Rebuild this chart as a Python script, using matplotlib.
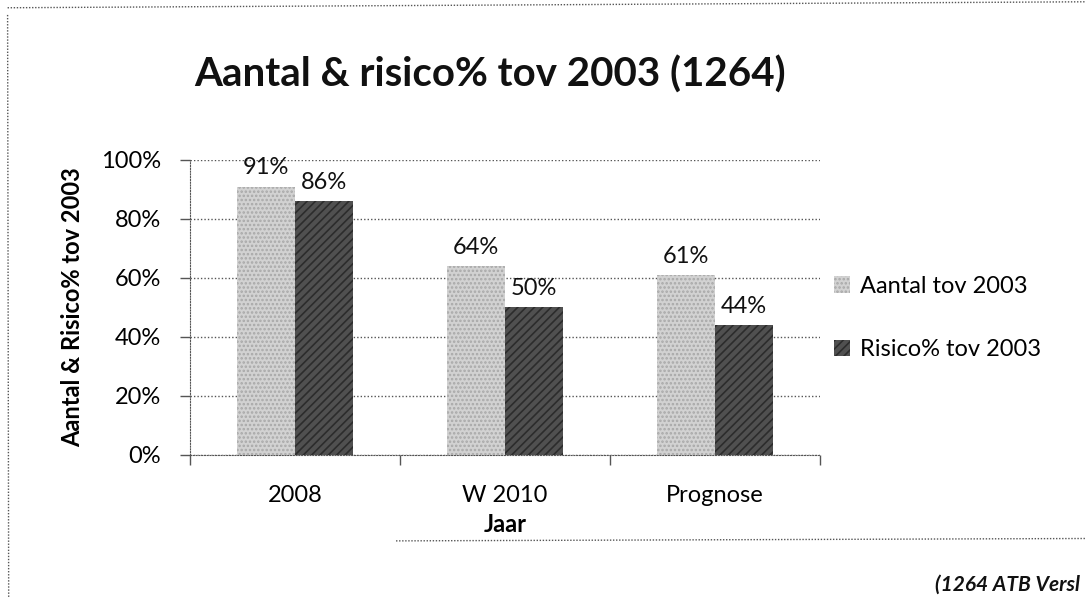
#!/usr/bin/env python3
"""Aantal & risico% tov 2003 - grouped bar chart."""

import matplotlib
matplotlib.use("Agg")
import matplotlib.pyplot as plt
from matplotlib.lines import Line2D
from matplotlib.patches import Patch
import numpy as np

categories = ["2008", "W 2010", "Prognose"]
aantal = [0.91, 0.64, 0.61]
risico = [0.86, 0.50, 0.44]
series_names = ["Aantal tov 2003", "Risico% tov 2003"]
y_ticks = [0.0, 0.2, 0.4, 0.6, 0.8, 1.0]

plt.rcParams["font.family"] = ["Lato", "DejaVu Sans"]
plt.rcParams["hatch.linewidth"] = 1.2

LIGHT = "#d2d2d2"
LIGHT_HATCH = "#a8a8a8"
DARK = "#505050"
DARK_HATCH = "#2c2c2c"
GRID = "#555555"
FS = 17

fig = plt.figure(figsize=(10.85, 5.97), dpi=100)
ax = fig.add_axes([0.175, 0.238, 0.581, 0.494])

x = np.arange(len(categories))
w = 0.276
b1 = ax.bar(x - w / 2, aantal, w, color=LIGHT, edgecolor=LIGHT_HATCH,
            hatch="....", linewidth=0, zorder=3)
b2 = ax.bar(x + w / 2, risico, w, color=DARK, edgecolor=DARK_HATCH,
            hatch="////", linewidth=0, zorder=3)

for bars, vals in ((b1, aantal), (b2, risico)):
    for rect, v in zip(bars, vals):
        ax.annotate(f"{v * 100:.0f}%", (rect.get_x() + rect.get_width() / 2, v),
                    xytext=(0, 6), textcoords="offset points",
                    ha="center", va="bottom", fontsize=FS, color="#111111", zorder=4)

ax.set_xlim(-0.5, len(categories) - 0.5)
ax.set_ylim(0, 1.0)
ax.set_yticks(y_ticks)
ax.set_yticklabels([f"{t * 100:.0f}%" for t in y_ticks], fontsize=FS)
ax.set_xticks(x)
ax.set_xticklabels(categories, fontsize=FS)
ax.tick_params(axis="x", length=0, pad=22)
ax.set_xticks(np.arange(-0.5, len(categories)), minor=True)
ax.tick_params(axis="x", which="minor", length=7, width=1, color=GRID, direction="out")
ax.tick_params(axis="y", length=7, width=1, color=GRID, direction="out", pad=14)

ax.grid(axis="y", color=GRID, linestyle=(0, (1, 1.5)), linewidth=1, zorder=0)
for side in ("top", "right"):
    ax.spines[side].set_visible(False)
for side in ("left", "bottom"):
    ax.spines[side].set_linestyle((0, (1, 1.5)))
    ax.spines[side].set_color(GRID)

ax.set_ylabel("Aantal & Risico% tov 2003", fontsize=FS, fontweight="bold", labelpad=12)
ax.set_xlabel("Jaar", fontsize=FS, fontweight="bold", labelpad=5)

fig.text(0.452, 0.875, "Aantal & risico% tov 2003 (1264)", ha="center", va="center",
         fontsize=29, fontweight="bold", color="#111111")

handles = [
    Patch(facecolor=LIGHT, edgecolor=LIGHT_HATCH, hatch="....", linewidth=0),
    Patch(facecolor=DARK, edgecolor=DARK_HATCH, hatch="////", linewidth=0),
]
fig.legend(handles, series_names, loc="center left", bbox_to_anchor=(0.749, 0.467),
           frameon=False, fontsize=FS, handlelength=0.7, handleheight=0.7,
           handletextpad=0.4, labelspacing=1.8)

# scanned page frame
dot = (0, (1, 1.2))
fig.add_artist(Line2D([0.007, 1.0], [0.987, 0.997], color=GRID, lw=1, ls=dot))
fig.add_artist(Line2D([0.007, 0.008], [0.975, 0.0], color=GRID, lw=1, ls=dot))
fig.add_artist(Line2D([0.365, 1.0], [0.094, 0.098], color=GRID, lw=1, ls=dot))
fig.text(0.995, 0.004, "(1264 ATB Versl", ha="right", va="bottom", fontsize=15,
         fontweight="bold", style="italic", color="#111111")

fig.savefig("out.png", dpi=100)
